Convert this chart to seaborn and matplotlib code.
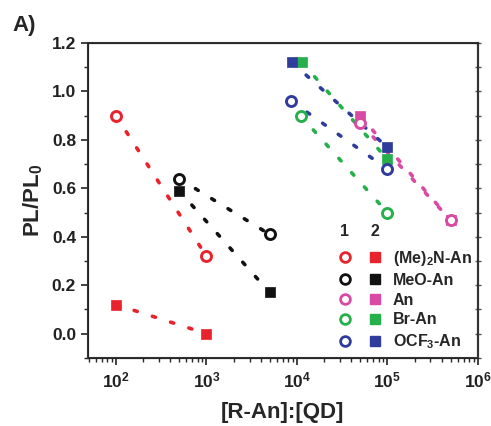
import pandas as pd
import seaborn as sns
import matplotlib.pyplot as plt
from matplotlib.lines import Line2D
from matplotlib.legend_handler import HandlerTuple
from matplotlib.ticker import FixedLocator, FixedFormatter, LogLocator, MultipleLocator, NullFormatter

sns.set_style('ticks')
plt.rcParams['font.family'] = ['Liberation Sans', 'DejaVu Sans']
plt.rcParams['font.weight'] = 'bold'
plt.rcParams['mathtext.fontset'] = 'custom'
plt.rcParams['mathtext.rm'] = 'Liberation Sans:bold'
plt.rcParams['mathtext.bf'] = 'Liberation Sans:bold'
plt.rcParams['mathtext.it'] = 'Liberation Sans:bold'

# data
labels = ['(Me)$_2$N-An', 'MeO-An', 'An', 'Br-An', 'OCF$_3$-An']
colors = ['#e8232b', '#111111', '#d94aa5', '#25b04c', '#2f3c9c']

# series 1 (open circles)
x_open = [[100, 1000], [500, 5000], [50000, 500000], [11000, 100000], [8700, 100000]]
y_open = [[0.90, 0.32], [0.64, 0.41], [0.87, 0.47], [0.90, 0.50], [0.96, 0.68]]

# series 2 (filled squares)
x_fill = [[100, 1000], [500, 5000], [50000, 500000], [11400, 100000], [8800, 100000]]
y_fill = [[0.12, 0.00], [0.59, 0.17], [0.90, 0.47], [1.12, 0.72], [1.12, 0.77]]

x_ticks = [1e2, 1e3, 1e4, 1e5, 1e6]
x_ticklabels = ['$\\mathbf{10^{2}}$', '$\\mathbf{10^{3}}$', '$\\mathbf{10^{4}}$',
                '$\\mathbf{10^{5}}$', '$\\mathbf{10^{6}}$']

fig = plt.figure(figsize=(4.91, 4.26), dpi=100)
ax = fig.add_axes([0.179, 0.160, 0.794, 0.739])
ax.set_xscale('log')

dots = (0, (0.9, 4.4))
for i in range(len(labels)):
    c = colors[i]
    sns.lineplot(x=x_open[i], y=y_open[i], color=c, linewidth=2.6, linestyle=dots,
                 dash_capstyle='round', ax=ax, zorder=2)
    sns.lineplot(x=x_fill[i], y=y_fill[i], color=c, linewidth=2.6, linestyle=dots,
                 dash_capstyle='round', ax=ax, zorder=2)
for i in range(len(labels)):
    c = colors[i]
    sns.scatterplot(x=x_fill[i], y=y_fill[i], marker='s', s=62, color=c,
                    edgecolor=c, linewidth=0.5, ax=ax, zorder=3)
    sns.scatterplot(x=x_open[i], y=y_open[i], marker='o', s=52, color='white',
                    edgecolor=c, linewidth=2.1, ax=ax, zorder=4)

ax.set_xlim(49, 1e6)
ax.set_ylim(-0.1, 1.2)

ax.xaxis.set_major_locator(FixedLocator(x_ticks))
ax.xaxis.set_major_formatter(FixedFormatter(x_ticklabels))
ax.xaxis.set_minor_locator(LogLocator(base=10, subs=range(2, 10)))
ax.xaxis.set_minor_formatter(NullFormatter())
ax.yaxis.set_major_locator(MultipleLocator(0.2))
ax.yaxis.set_minor_locator(MultipleLocator(0.1))
ax.yaxis.set_major_formatter(plt.FuncFormatter(lambda v, p: '{:.1f}'.format(v)))

ax.tick_params(which='major', direction='out', length=5, width=1.2, labelsize=12.5, colors='#222222')
ax.tick_params(which='minor', direction='out', length=3, width=1.0)
ax.tick_params(axis='x', which='major', pad=4)

for sp in ax.spines.values():
    sp.set_linewidth(1.5)
    sp.set_color('#333333')

# right-hand ticks
ax2 = ax.twinx()
ax2.set_ylim(-0.1, 1.2)
ax2.yaxis.set_major_locator(MultipleLocator(0.2))
ax2.yaxis.set_minor_locator(MultipleLocator(0.1))
ax2.tick_params(which='both', direction='inout', length=4, width=1.0, labelright=False, colors='#555555')
ax2.spines['right'].set_linewidth(1.5)
ax2.spines['right'].set_color('#333333')

ax.set_xlabel('[R-An]:[QD]', fontsize=16, fontweight='bold')
ax.set_ylabel('PL/PL$_0$', fontsize=16, fontweight='bold')
ax.xaxis.set_label_coords(0.5, -0.14)
ax.yaxis.set_label_coords(-0.11, 0.5)

fig.text(12 / 491, 1 - 26 / 426, 'A)', fontsize=16, fontweight='bold', ha='left', va='center')

# legend: column 1 = open circles, column 2 = filled squares
handles = []
for c in colors:
    h1 = Line2D([], [], linestyle='none', marker='o', markersize=7, markerfacecolor='white',
                markeredgecolor=c, markeredgewidth=2.0)
    h2 = Line2D([], [], linestyle='none', marker='s', markersize=7.5, color=c)
    handles.append((h1, h2))
leg = ax.legend(handles, labels, handler_map={tuple: HandlerTuple(ndivide=None, pad=1.0)},
                loc='lower left', bbox_to_anchor=(0.641, 0.022), frameon=False,
                fontsize=11.5, handlelength=2.75, handletextpad=0.7, labelspacing=0.3,
                borderpad=0, borderaxespad=0)
ax.text((345 - 88) / 390, (358 - 232) / 315, '1', transform=ax.transAxes, fontsize=11.5,
        fontweight='bold', ha='center', va='center')
ax.text((375 - 88) / 390, (358 - 232) / 315, '2', transform=ax.transAxes, fontsize=11.5,
        fontweight='bold', ha='center', va='center')

fig.savefig('out.png', dpi=100)
